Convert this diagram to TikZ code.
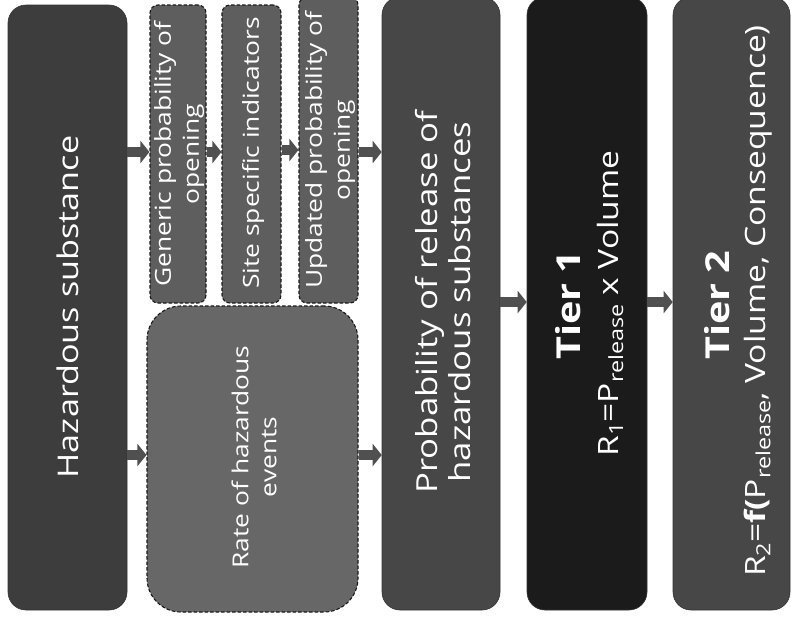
\documentclass[tikz,border=0pt]{standalone}
\usepackage{fontspec}
\setmainfont[FakeStretch=1.2]{Open Sans}
\usetikzlibrary{arrows.meta}
\definecolor{hazgray}{HTML}{3D3D3D}
\definecolor{smallgray}{HTML}{5E5E5E}
\definecolor{rategray}{HTML}{676767}
\definecolor{probgray}{HTML}{474747}
\definecolor{tieronegray}{HTML}{1B1B1B}
\definecolor{arrowgray}{HTML}{505050}
\newcommand\subtxt[1]{\raisebox{-5pt}{\fontsize{19.5}{20}\selectfont #1}}
\begin{document}
\begin{tikzpicture}[x=1pt,y=-1pt,
  solidbox/.style={fill=#1, draw=black!80, line width=0.6pt, rounded corners=18pt, inner sep=0pt},
  dashbox/.style={fill=#1, draw=black!90, line width=1.1pt, dash pattern=on 3.5pt off 2pt, rounded corners=8pt, inner sep=0pt},
  txt/.style={text=white, rotate=90, align=center, inner sep=0pt},
  blockarrow/.style={draw=arrowgray, line width=10pt, -{Triangle[length=9pt,width=22pt]}}]
\useasboundingbox (0,0) rectangle (791,630);
% boxes
\node[solidbox=hazgray, minimum width=119pt, minimum height=605pt] (haz) at (67.5,307.5) {};
\node[dashbox=smallgray, minimum width=56pt, minimum height=298pt] (gen) at (178,154) {};
\node[dashbox=smallgray, minimum width=59pt, minimum height=298pt] (site) at (251.5,154) {};
\node[dashbox=smallgray, minimum width=59pt, minimum height=306pt] (upd) at (328.5,150) {};
\node[dashbox=rategray, rounded corners=34pt, minimum width=211pt, minimum height=306pt] (rate) at (252.5,459) {};
\node[solidbox=probgray, minimum width=118pt, minimum height=613pt] (prob) at (441,303.5) {};
\node[solidbox=tieronegray, minimum width=120pt, minimum height=613pt] (tone) at (587,303.5) {};
\node[solidbox=probgray, minimum width=117pt, minimum height=613pt] (ttwo) at (731.5,303.5) {};
% texts
\node[txt, font=\fontsize{28.5}{34}\selectfont] (haz-t) at (68,307) {Hazardous substance};
\node[txt, font=\fontsize{22}{28}\selectfont] (gen-t) at (179,154) {Generic probability of\\opening};
\node[txt, font=\fontsize{22}{28}\selectfont] (site-t) at (253,153) {Site specific indicators};
\node[txt, font=\fontsize{22}{28}\selectfont] (upd-t) at (330,150) {Updated probability of\\opening};
\node[txt, font=\fontsize{22}{28}\selectfont] (rate-t) at (254,457) {Rate of hazardous\\events};
\node[txt, font=\fontsize{29}{33}\selectfont] (prob-t) at (443,302) {Probability of release of\\hazardous substances};
\node[txt, font=\fontsize{33}{36}\selectfont\bfseries] (tone-a) at (568,305) {Tier 1};
\node[txt, font=\fontsize{28}{32}\selectfont] (tone-b) at (610,303.5) {R\subtxt{1}=P\subtxt{release} x Volume};
\node[txt, font=\fontsize{33}{36}\selectfont\bfseries] (ttwo-a) at (717,305) {Tier 2};
\node[txt, font=\fontsize{28}{32}\selectfont] (ttwo-b) at (758,301) {R\subtxt{2}=\textbf{f(}P\subtxt{release}, Volume, Consequence)};
% arrows
\draw[blockarrow] (haz.east |- 0,152) -- (gen.west |- 0,152);
\draw[blockarrow] (gen.east |- 0,152) -- (site.west |- 0,152);
\draw[blockarrow] (site.east |- 0,150) -- (upd.west |- 0,150);
\draw[blockarrow] (upd.east |- 0,152) -- (prob.west |- 0,152);
\draw[blockarrow] (haz.east |- 0,455) -- (rate.west |- 0,455);
\draw[blockarrow] (rate.east |- 0,455) -- (prob.west |- 0,455);
\draw[blockarrow] (prob.east |- 0,302) -- (tone.west |- 0,302);
\draw[blockarrow] (tone.east |- 0,302) -- (ttwo.west |- 0,302);
\end{tikzpicture}
\end{document}
